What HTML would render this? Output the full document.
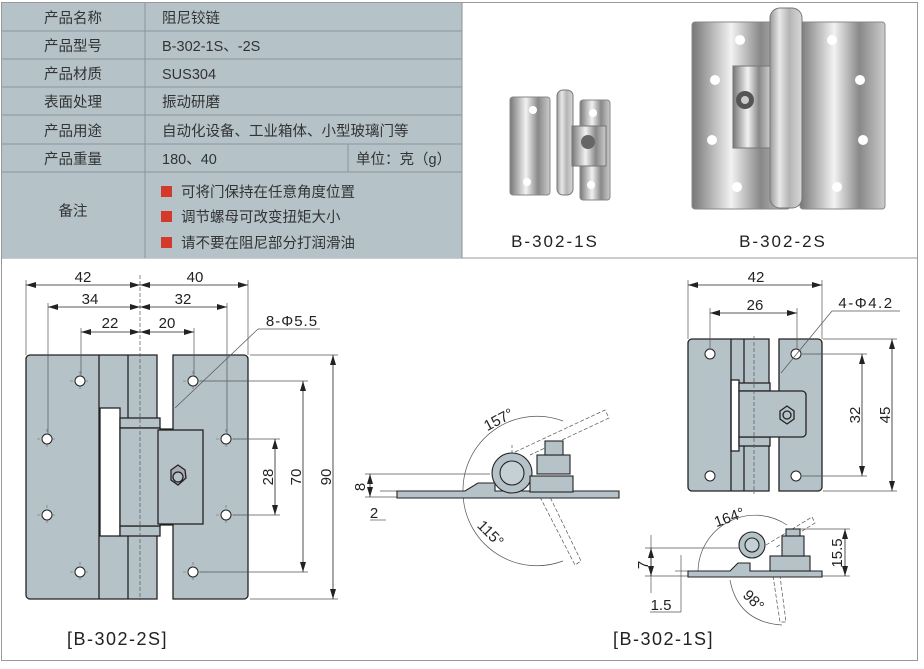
<!DOCTYPE html>
<html><head><meta charset="utf-8"><style>
body{margin:0;background:#fff;}
svg text{font-family:"Liberation Sans","Noto Sans CJK SC",sans-serif;}
</style></head><body>
<svg width="924" height="664" viewBox="0 0 924 664" xmlns="http://www.w3.org/2000/svg">
<defs>
<marker id="a" viewBox="0 0 10 6" refX="10" refY="3" markerWidth="10" markerHeight="6" orient="auto-start-reverse" markerUnits="userSpaceOnUse"><path d="M0,0L10,3L0,6z" fill="#222"/></marker>
<linearGradient id="m" x1="0" x2="1"><stop offset="0" stop-color="#9a9a9a"/><stop offset=".3" stop-color="#e8e8e8"/><stop offset=".6" stop-color="#b5b5b5"/><stop offset="1" stop-color="#d8d8d8"/></linearGradient>
<linearGradient id="p" x1="0" x2="1"><stop offset="0" stop-color="#777"/><stop offset=".4" stop-color="#f2f2f2"/><stop offset=".7" stop-color="#888"/><stop offset="1" stop-color="#ccc"/></linearGradient>
</defs>
<rect x="1.5" y="2.5" width="916" height="658" fill="#fff" stroke="#999"/>
<line x1="1" y1="258" x2="918" y2="258" stroke="#999"/>
<rect x="2" y="3" width="460" height="255" fill="#b5c3c9"/>
<g stroke="#8a9499" stroke-width="1">
<line x1="2" y1="31" x2="462" y2="31"/><line x1="2" y1="59" x2="462" y2="59"/><line x1="2" y1="87" x2="462" y2="87"/><line x1="2" y1="115" x2="462" y2="115"/><line x1="2" y1="144" x2="462" y2="144"/><line x1="2" y1="172" x2="462" y2="172"/>
<line x1="145" y1="3" x2="145" y2="258"/><line x1="348" y1="144" x2="348" y2="172"/><line x1="462" y1="3" x2="462" y2="258"/>
</g>
<g font-size="14.5" fill="#333">
<text x="73" y="23" text-anchor="middle">产品名称</text><text x="73" y="51" text-anchor="middle">产品型号</text><text x="73" y="79" text-anchor="middle">产品材质</text><text x="73" y="107" text-anchor="middle">表面处理</text><text x="73" y="136" text-anchor="middle">产品用途</text><text x="73" y="164" text-anchor="middle">产品重量</text><text x="73" y="216" text-anchor="middle">备注</text>
<text x="162" y="23">阻尼铰链</text><text x="162" y="51">B-302-1S、-2S</text><text x="162" y="79">SUS304</text><text x="162" y="107">振动研磨</text><text x="162" y="136">自动化设备、工业箱体、小型玻璃门等</text><text x="162" y="164">180、40</text><text x="356" y="164">单位：克（g）</text>
<text x="181" y="197">可将门保持在任意角度位置</text><text x="181" y="222">调节螺母可改变扭矩大小</text><text x="181" y="248">请不要在阻尼部分打润滑油</text>
</g>
<rect x="161" y="186" width="11" height="11" fill="#d33a2c"/><rect x="161" y="211" width="11" height="11" fill="#d33a2c"/><rect x="161" y="237" width="11" height="11" fill="#d33a2c"/>
<g>
<rect x="510" y="97" width="40" height="98" rx="3" fill="url(#p)" stroke="#888"/>
<rect x="580" y="100" width="30" height="100" rx="3" fill="url(#p)" stroke="#888"/>
<rect x="557" y="90" width="16" height="105" rx="6" fill="url(#m)" stroke="#777"/>
<rect x="572" y="126" width="34" height="40" fill="url(#p)" stroke="#777"/>
<circle cx="588" cy="142" r="7" fill="#666"/>
<circle cx="533" cy="110" r="4" fill="#fff"/><circle cx="527" cy="182" r="4" fill="#fff"/><circle cx="593" cy="113" r="4" fill="#fff"/><circle cx="591" cy="185" r="4" fill="#fff"/>
<rect x="692" y="22" width="98" height="187" rx="3" fill="url(#p)" stroke="#888"/>
<rect x="800" y="22" width="85" height="187" rx="3" fill="url(#p)" stroke="#888"/>
<rect x="770" y="8" width="32" height="200" rx="10" fill="url(#m)" stroke="#777"/>
<rect x="733" y="66" width="37" height="82" fill="url(#p)" stroke="#777"/>
<circle cx="745" cy="100" r="9" fill="#555"/><circle cx="745" cy="100" r="4" fill="#ccc"/>
<g fill="#fff"><circle cx="740" cy="40" r="5"/><circle cx="715" cy="80" r="5"/><circle cx="712" cy="140" r="5"/><circle cx="737" cy="187" r="5"/><circle cx="832" cy="40" r="5"/><circle cx="860" cy="80" r="5"/><circle cx="863" cy="140" r="5"/><circle cx="837" cy="187" r="5"/></g>
</g>
<text x="555" y="247" font-size="17" fill="#222" text-anchor="middle" letter-spacing="2">B-302-1S</text>
<text x="783" y="247" font-size="17" fill="#222" text-anchor="middle" letter-spacing="2">B-302-2S</text>

<!-- 2S front view -->
<g stroke="#222" stroke-width="1.3" fill="#b5c3c9">
<path d="M30,355H157V599H30a4,4 0 0 1-4-4V359a4,4 0 0 1 4-4z"/>
<path d="M173,355H244a4,4 0 0 1 4,4V595a4,4 0 0 1-4,4H173V525H160V429H173z"/>
<rect x="100" y="408" width="20" height="128" fill="#fff"/>
<line x1="99" y1="355" x2="99" y2="599"/><line x1="128" y1="355" x2="128" y2="599"/>
<rect x="120" y="418" width="40" height="10"/><rect x="120" y="526" width="40" height="10"/>
<rect x="120" y="428" width="40" height="98"/><rect x="158" y="430" width="45" height="94"/>
<polygon points="171,470 178,465 185,470 186,478 178,485 171,480" fill="#aab"/>
<circle cx="178" cy="477" r="5"/>
</g>
<line x1="140" y1="275" x2="140" y2="600" stroke="#555" stroke-dasharray="4,2" stroke-width=".7"/>
<g stroke="#666" stroke-width=".6" stroke-dasharray="3,2">
<path d="M70,381h20M80,371v20M37,439h20M47,429v20M37,515h20M47,505v20M70,572h20M80,562v20M183,381h20M193,371v20M216,439h20M226,429v20M216,515h20M226,505v20M183,572h20M193,562v20"/>
<path d="M700,354h20M710,344v20M786,354h20M796,344v20M700,476h20M710,466v20M786,476h20M796,466v20"/>
</g>
<g fill="#fff" stroke="#222" stroke-width="1"><circle cx="80" cy="381" r="5"/><circle cx="47" cy="439" r="5"/><circle cx="47" cy="515" r="5"/><circle cx="80" cy="572" r="5"/><circle cx="193" cy="381" r="5"/><circle cx="226" cy="439" r="5"/><circle cx="226" cy="515" r="5"/><circle cx="193" cy="572" r="5"/></g>
<g stroke="#555" stroke-width=".7" fill="none">
<line x1="26" y1="280" x2="26" y2="355"/><line x1="248" y1="280" x2="248" y2="355"/><line x1="48" y1="303" x2="48" y2="434"/><line x1="227" y1="303" x2="227" y2="434"/><line x1="81" y1="328" x2="81" y2="376"/><line x1="194" y1="328" x2="194" y2="376"/>
<line x1="250" y1="355" x2="338" y2="355"/><line x1="250" y1="599" x2="338" y2="599"/><line x1="200" y1="381" x2="308" y2="381"/><line x1="200" y1="572" x2="308" y2="572"/><line x1="233" y1="439" x2="280" y2="439"/><line x1="233" y1="515" x2="280" y2="515"/>
<line x1="175" y1="408" x2="258" y2="329"/><line x1="258" y1="329" x2="320" y2="329"/>
</g>
<g stroke="#222" stroke-width=".8" marker-start="url(#a)" marker-end="url(#a)">
<line x1="26" y1="285" x2="140" y2="285"/><line x1="140" y1="285" x2="248" y2="285"/>
<line x1="48" y1="307" x2="140" y2="307"/><line x1="140" y1="307" x2="227" y2="307"/>
<line x1="81" y1="332" x2="140" y2="332"/><line x1="140" y1="332" x2="194" y2="332"/>
<line x1="333" y1="355" x2="333" y2="599"/><line x1="303" y1="381" x2="303" y2="572"/><line x1="275" y1="439" x2="275" y2="515"/>
</g>
<g font-size="15" fill="#222" text-anchor="middle">
<text x="83" y="282">42</text><text x="195" y="282">40</text><text x="90" y="304">34</text><text x="183" y="304">32</text><text x="110" y="328">22</text><text x="167" y="328">20</text>
<text x="292" y="326" text-anchor="middle" letter-spacing="1">8-Φ5.5</text>
<text transform="translate(273,477) rotate(-90)">28</text><text transform="translate(301,477) rotate(-90)">70</text><text transform="translate(331,477) rotate(-90)">90</text>
</g>
<text x="67" y="645" font-size="18" fill="#222" letter-spacing="1.5">[B-302-2S]</text>

<!-- middle side view -->
<g stroke="#555" stroke-width=".7" fill="none">
<path d="M463,491 A74,74 0 0 1 563,421"/><path d="M463,491 A74,74 0 0 0 563,561"/>
<path d="M515,452 L605,410 L609,418 L530,455" stroke-dasharray="4,2"/>
<path d="M540,497 L575,565 L581,561 L550,497" stroke-dasharray="4,2"/>
<line x1="365" y1="474" x2="490" y2="474"/><line x1="365" y1="497" x2="397" y2="497"/><line x1="380" y1="491" x2="397" y2="491"/><line x1="370" y1="520" x2="386" y2="520"/>
<line x1="512" y1="445" x2="512" y2="500" stroke-dasharray="3,2"/>
</g>
<g stroke="#222" stroke-width="1.1" fill="#b5c3c9">
<path d="M397,491H465L478,483H495V491H619V498H397z"/>
<circle cx="512" cy="473" r="20"/><circle cx="512" cy="473" r="12" fill="#c5d0d5"/>
<rect x="530" y="476" width="43" height="16"/>
<rect x="537" y="455" width="33" height="19"/><rect x="545" y="441" width="18" height="14"/>
</g>
<g stroke="#222" stroke-width=".8" marker-start="url(#a)" marker-end="url(#a)"><line x1="370" y1="474" x2="370" y2="497"/></g>
<g font-size="15" fill="#222" text-anchor="middle"><text transform="translate(365,487) rotate(-90)">8</text><text x="374" y="518">2</text>
<text transform="translate(501,424) rotate(-28)">157°</text><text transform="translate(487,537) rotate(45)">115°</text></g>

<!-- 1S front view -->
<g stroke="#222" stroke-width="1.3" fill="#b5c3c9">
<path d="M692,339H769V491H692a4,4 0 0 1-4-4V343a4,4 0 0 1 4-4z"/>
<path d="M779,339H818a4,4 0 0 1 4,4V487a4,4 0 0 1-4,4H779z"/>
<rect x="731" y="380" width="8" height="71" fill="#fff"/>
<line x1="731" y1="339" x2="731" y2="491"/><line x1="744" y1="339" x2="744" y2="491"/>
<rect x="739" y="383" width="31" height="8"/><rect x="739" y="437" width="31" height="9"/>
<path d="M739,391H802a4,4 0 0 1 4,4V433a4,4 0 0 1-4,4H739z"/>
<polygon points="780,411 787,406 794,411 794,419 787,424 780,419"/><circle cx="787" cy="415" r="4"/>
</g>
<line x1="754" y1="336" x2="754" y2="494" stroke="#555" stroke-dasharray="4,2" stroke-width=".7"/>
<g fill="#fff" stroke="#222"><circle cx="710" cy="354" r="5"/><circle cx="796" cy="354" r="5"/><circle cx="710" cy="476" r="5"/><circle cx="796" cy="476" r="5"/></g>
<g stroke="#555" stroke-width=".7" fill="none">
<line x1="688" y1="280" x2="688" y2="339"/><line x1="822" y1="280" x2="822" y2="339"/><line x1="710" y1="308" x2="710" y2="349"/><line x1="797" y1="308" x2="797" y2="349"/>
<line x1="823" y1="339" x2="897" y2="339"/><line x1="823" y1="491" x2="897" y2="491"/><line x1="802" y1="354" x2="867" y2="354"/><line x1="802" y1="476" x2="867" y2="476"/>
<line x1="781" y1="373" x2="832" y2="311"/><line x1="832" y1="311" x2="900" y2="311"/>
</g>
<g stroke="#222" stroke-width=".8" marker-start="url(#a)" marker-end="url(#a)">
<line x1="688" y1="285" x2="822" y2="285"/><line x1="710" y1="313" x2="797" y2="313"/><line x1="862" y1="354" x2="862" y2="476"/><line x1="892" y1="339" x2="892" y2="491"/>
</g>
<g font-size="15" fill="#222" text-anchor="middle"><text x="756" y="282">42</text><text x="755" y="310">26</text><text x="866" y="308" letter-spacing="1.5">4-Φ4.2</text>
<text transform="translate(860,415) rotate(-90)">32</text><text transform="translate(890,415) rotate(-90)">45</text></g>

<!-- 1S side view -->
<g stroke="#555" stroke-width=".7" fill="none">
<path d="M698,572 A57,57 0 0 1 787,525"/><path d="M730,580 Q738,622 782,625"/>
<path d="M766,545 L812,517 L815,523 L775,548" stroke-dasharray="4,2"/>
<path d="M773,576 L780,622 L786,622 L780,576" stroke-dasharray="4,2"/>
<line x1="645" y1="548" x2="750" y2="548"/><line x1="645" y1="576" x2="688" y2="576"/><line x1="675" y1="571" x2="688" y2="571"/><line x1="650" y1="612" x2="681" y2="612"/><line x1="681" y1="555" x2="681" y2="612"/><line x1="651" y1="535" x2="651" y2="593"/>
<line x1="796" y1="529" x2="850" y2="529"/><line x1="822" y1="576" x2="850" y2="576"/>
</g>
<g stroke="#222" stroke-width="1.1" fill="#b5c3c9">
<path d="M688,571H730L738,563H750V571H822V577H688z"/>
<circle cx="752" cy="545" r="13"/><circle cx="752" cy="545" r="7" fill="#c5d0d5"/>
<rect x="770" y="556" width="40" height="15"/>
<rect x="782" y="536" width="22" height="20"/><rect x="786" y="529" width="14" height="7"/>
</g>
<g stroke="#222" stroke-width=".8" marker-start="url(#a)" marker-end="url(#a)"><line x1="651" y1="548" x2="651" y2="576"/><line x1="845" y1="529" x2="845" y2="576"/></g>
<g font-size="15" fill="#222" text-anchor="middle"><text transform="translate(648,565) rotate(-90)">7</text><text x="661" y="610">1.5</text>
<text transform="translate(842,553) rotate(-90)">15.5</text><text transform="translate(731,522) rotate(-20)">164°</text><text transform="translate(750,604) rotate(45)">98°</text></g>
<text x="613" y="645" font-size="18" fill="#222" letter-spacing="1.5">[B-302-1S]</text>
</svg>
</body></html>
